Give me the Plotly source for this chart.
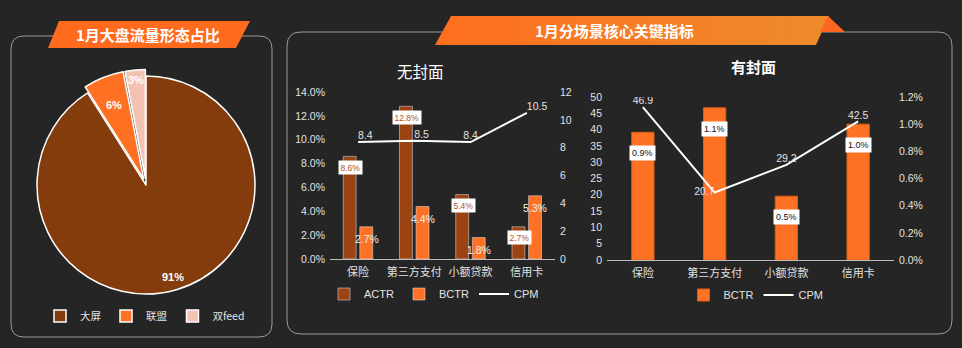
import math
import plotly.graph_objects as go

W, H = 962, 348

# ---------------- data ----------------
pie_labels = ['大屏', '联盟', '双feed']
pie_values = [91, 6, 3]
pie_colors = ['#843C0C', '#FF7022', '#F4C2B2']

categories = ['保险', '第三方支付', '小额贷款', '信用卡']
# 无封面
nc_actr = [0.086, 0.128, 0.054, 0.027]
nc_bctr = [0.027, 0.044, 0.018, 0.053]
nc_cpm = [8.4, 8.5, 8.4, 10.5]
# 有封面
wc_bctr = [0.0094, 0.0112, 0.0047, 0.0100]
wc_cpm = [46.9, 20.7, 29.2, 42.5]

BG = '#252525'
TXT = '#e2e2e2'
FONT = 'Liberation Sans, Noto Sans CJK SC, sans-serif'
CJK = 'Noto Sans CJK SC, sans-serif'
C_ACTR = '#9C4313'
C_BCTR = '#FF7124'


def px(x):
    return x / W


def py(y):
    return 1 - y / H


def rrect(x0, y0, x1, y1, r):
    pts = [
        f'M{px(x0 + r)},{py(y0)}', f'L{px(x1 - r)},{py(y0)}',
        f'Q{px(x1)},{py(y0)} {px(x1)},{py(y0 + r)}', f'L{px(x1)},{py(y1 - r)}',
        f'Q{px(x1)},{py(y1)} {px(x1 - r)},{py(y1)}', f'L{px(x0 + r)},{py(y1)}',
        f'Q{px(x0)},{py(y1)} {px(x0)},{py(y1 - r)}', f'L{px(x0)},{py(y0 + r)}',
        f'Q{px(x0)},{py(y0)} {px(x0 + r)},{py(y0)}', 'Z']
    return ' '.join(pts)


def poly(points):
    return 'M' + ' L'.join(f'{px(x)},{py(y)}' for x, y in points) + ' Z'


fig = go.Figure()

# ---------------- pie ----------------
PULL = 0.06
pie_cx, pie_cy, pie_r = 146, 185, 109
half = pie_r * (1 + PULL)
fig.add_trace(go.Pie(
    labels=pie_labels, values=pie_values, sort=False, direction='clockwise', rotation=0,
    marker=dict(colors=pie_colors, line=dict(color='#ffffff', width=1.5)),
    pull=[0, PULL, PULL], textinfo='none', hoverinfo='skip',
    domain=dict(x=[px(pie_cx - half), px(pie_cx + half)], y=[py(pie_cy + half), py(pie_cy - half)]),
    legend='legend', showlegend=True,
))

# ---------------- 无封面 ----------------
fig.add_trace(go.Bar(x=categories, y=nc_actr, name='ACTR', marker_color=C_ACTR,
                     width=0.23, offset=-0.265, xaxis='x', yaxis='y', legend='legend2',
                     hoverinfo='skip'))
fig.add_trace(go.Bar(x=categories, y=nc_bctr, name='BCTR', marker_color=C_BCTR,
                     width=0.23, offset=0.03, xaxis='x', yaxis='y', legend='legend2',
                     hoverinfo='skip'))
fig.add_trace(go.Scatter(x=categories, y=nc_cpm, name='CPM', mode='lines+text',
                         line=dict(color='#ffffff', width=2),
                         text=[f'{v:.1f}' for v in nc_cpm],
                         textposition=['top right', 'top right', 'top center', 'top right'],
                         textfont=dict(size=10.5, color=TXT, family=FONT),
                         xaxis='x', yaxis='y2', legend='legend2', hoverinfo='skip'))

# ---------------- 有封面 ----------------
fig.add_trace(go.Bar(x=categories, y=wc_bctr, name='BCTR', marker_color=C_BCTR,
                     marker_line=dict(color='#E0600F', width=1),
                     width=0.31, offset=-0.155, xaxis='x2', yaxis='y3', legend='legend3',
                     hoverinfo='skip'))
fig.add_trace(go.Scatter(x=categories, y=wc_cpm, name='CPM', mode='lines+text',
                         line=dict(color='#ffffff', width=2),
                         text=[f'{v:.1f}' for v in wc_cpm],
                         textposition=['top center', 'middle left', 'top center', 'top center'],
                         textfont=dict(size=10.5, color=TXT, family=FONT),
                         xaxis='x2', yaxis='y4', legend='legend3', hoverinfo='skip'))

# ---------------- banner gradient (full-canvas helper axes) ----------------
fig.add_trace(go.Scatter(x=[451, 829, 816, 435, 451], y=[16, 16, 45, 45, 16],
                         mode='lines', fill='toself', line=dict(width=0, color='rgba(0,0,0,0)'),
                         fillgradient=dict(type='horizontal',
                                           colorscale=[[0, '#FF6E20'], [1, '#EE8B2B']]),
                         xaxis='x3', yaxis='y5', showlegend=False, hoverinfo='skip'))

tickfont = dict(size=10.5, color=TXT, family=FONT)
axis_common = dict(showgrid=False, zeroline=False, ticks='', tickfont=tickfont, fixedrange=True,
                   ticklabelstandoff=4)
xcommon = dict(type='category', showline=True, linecolor='#bdbdbd', linewidth=1, showgrid=False,
               ticks='', tickfont=dict(size=11, color=TXT, family=CJK), fixedrange=True,
               ticklabelstandoff=3)
legfont = dict(size=11, color=TXT, family=FONT)

fig.update_layout(
    width=W, height=H, margin=dict(l=0, r=0, t=0, b=0, pad=0, autoexpand=False),
    paper_bgcolor=BG, plot_bgcolor='rgba(0,0,0,0)',
    font=dict(family=FONT, color=TXT),
    barmode='group',
    xaxis=dict(domain=[px(330), px(555)], anchor='y', **xcommon),
    yaxis=dict(domain=[py(259), py(92)], anchor='x', range=[0, 0.14], dtick=0.02,
               tickformat='.1%', **axis_common),
    yaxis2=dict(overlaying='y', anchor='x', side='right', range=[0, 12], dtick=2,
                **axis_common),
    xaxis2=dict(domain=[px(607), px(894)], anchor='y3', **xcommon),
    yaxis3=dict(domain=[py(260), py(97)], anchor='x2', side='right', range=[0, 0.012],
                dtick=0.002, tickformat='.1%', **axis_common),
    yaxis4=dict(overlaying='y3', anchor='x2', side='left', range=[0, 50], dtick=5,
                **axis_common),
    xaxis3=dict(domain=[0, 1], anchor='y5', range=[0, W], visible=False, fixedrange=True),
    yaxis5=dict(domain=[0, 1], anchor='x3', range=[H, 0], visible=False, fixedrange=True),
    legend=dict(orientation='h', x=px(145), xanchor='center', y=py(316), yanchor='middle',
                font=dict(size=10.5, color=TXT, family=CJK), bgcolor='rgba(0,0,0,0)',
                itemwidth=30, tracegroupgap=0),
    legend2=dict(orientation='h', x=px(434), xanchor='center', y=py(294), yanchor='middle',
                 font=legfont, bgcolor='rgba(0,0,0,0)', itemwidth=30),
    legend3=dict(orientation='h', x=px(756), xanchor='center', y=py(295), yanchor='middle',
                 font=legfont, bgcolor='rgba(0,0,0,0)', itemwidth=30),
)

# ---------------- decorative shapes ----------------
shapes = [
    dict(type='path', path=rrect(11, 36, 272, 337, 13), xref='paper', yref='paper',
         line=dict(color='#9a9a9a', width=1), fillcolor='rgba(0,0,0,0)', layer='below'),
    dict(type='path', path=rrect(287, 32, 952, 334, 14), xref='paper', yref='paper',
         line=dict(color='#9a9a9a', width=1), fillcolor='rgba(0,0,0,0)', layer='below'),
    dict(type='path', path=poly([(59, 21), (250, 21), (236, 48), (48, 48)]),
         xref='paper', yref='paper', line=dict(width=0), fillcolor='#FF6B1E', layer='above'),
    dict(type='path', path=poly([(828, 16), (845, 32), (820, 32)]),
         xref='paper', yref='paper', line=dict(width=0), fillcolor='#FF6622', layer='above'),
]
fig.update_layout(shapes=shapes)


def note(text, x, y, size, color='#ffffff', family=CJK):
    return dict(text=text, x=px(x), y=py(y), xref='paper', yref='paper', showarrow=False,
                xanchor='center', yanchor='middle', font=dict(size=size, color=color, family=family))


# ---------------- annotations ----------------
ann = [
    note('<b>1月大盘流量形态占比</b>', 148, 34, 15),
    note('<b>1月分场景核心关键指标</b>', 614, 31, 15),
    note('无封面', 420, 71, 15.5),
    note('<b>有封面</b>', 753, 66, 15),
]

# pie labels, placed along each slice's bisector
total = sum(pie_values)
radial = [0.88, 0.73, 0.91]
pulls = [0, PULL, PULL]
cum = 0
for v, f, p in zip(pie_values, radial, pulls):
    mid = 2 * math.pi * (cum + v / 2) / total
    cum += v
    rr = pie_r * (f + p)
    lx = pie_cx + rr * math.sin(mid)
    ly = pie_cy - rr * math.cos(mid)
    ann.append(note(f'<b>{v}%</b>', lx, ly, 11, family=FONT))

# bar value labels
for c, v in zip(categories, nc_actr):
    ann.append(dict(text=f'{v * 100:.1f}%', x=c, y=v, xref='x', yref='y', showarrow=False,
                    xanchor='center', yanchor='middle',
                    xshift=-7.5, yshift=-11, bgcolor='#ffffff', borderpad=1.5,
                    font=dict(size=8.5, color='#B0531D', family=FONT)))
for c, v in zip(categories, nc_bctr):
    ann.append(dict(text=f'{v * 100:.1f}%', x=c, y=v, xref='x', yref='y', showarrow=False,
                    xanchor='center', yanchor='middle',
                    xshift=8.5, yshift=-12, font=dict(size=10.5, color='#f0f0f0', family=FONT)))
for c, v in zip(categories, wc_bctr):
    ann.append(dict(text=f'{v * 100:.1f}%', x=c, y=v, xref='x2', yref='y3', showarrow=False,
                    xanchor='center', yanchor='middle',
                    yshift=-21, bgcolor='#ffffff', borderpad=2,
                    font=dict(size=9, color='#111111', family=FONT)))

fig.update_layout(annotations=ann)

fig.write_html('out.html')
